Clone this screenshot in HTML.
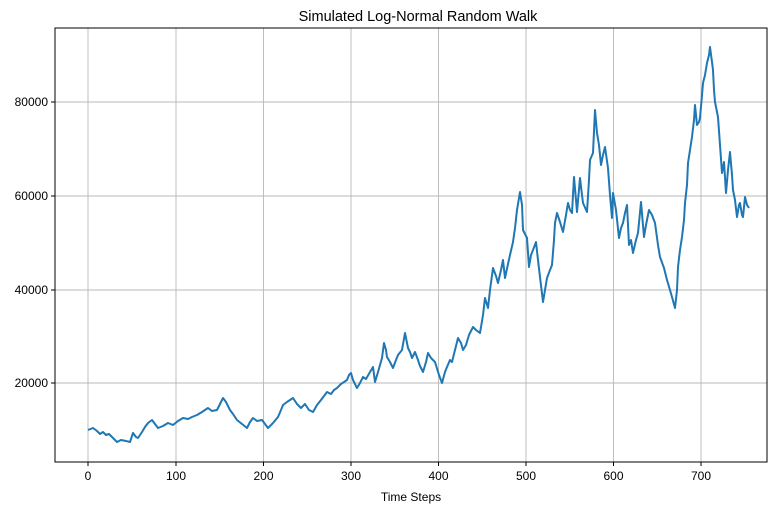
<!DOCTYPE html>
<html><head><style>body{margin:0;background:#fff}svg{display:block;font-family:"Liberation Sans",sans-serif}</style></head>
<body>
<svg width="768" height="512" viewBox="0 0 768 512">
<rect width="768" height="512" fill="#fff"/>
<g stroke="#b8b8b8" stroke-width="0.9">
<line x1="88" y1="28" x2="88" y2="462"/><line x1="176" y1="28" x2="176" y2="462"/><line x1="263.5" y1="28" x2="263.5" y2="462"/><line x1="351" y1="28" x2="351" y2="462"/><line x1="438.5" y1="28" x2="438.5" y2="462"/><line x1="526" y1="28" x2="526" y2="462"/><line x1="613.5" y1="28" x2="613.5" y2="462"/><line x1="701" y1="28" x2="701" y2="462"/>
<line x1="55" y1="383" x2="767" y2="383"/><line x1="55" y1="290" x2="767" y2="290"/><line x1="55" y1="196" x2="767" y2="196"/><line x1="55" y1="102" x2="767" y2="102"/>
</g>
<polyline fill="none" stroke="#1f77b4" stroke-width="2" stroke-linejoin="round" points="88,430 93,428 97,431 100,434 103,432 106,435 109,434 112,437 117,442 121,440 126,441 130,442 133,433 136,437 138,438 142,432 145,427 148,423 152,420 155,424 158,428 163,426 168,423 173,425 178,421 183,418 188,419 192,417 197,415 202,412 205,410 208,408 212,411 217,410 220,404 223,398 226,402 230,410 233,414 237,420 242,424 247,428 250,422 253,418 257,421 262,420 265,424 268,428 273,423 278,417 281,410 283,405 287,402 290,400 293,398 297,404 301,408 305,404 309,410 313,412 317,405 321,400 324,396 327,392 331,394 334,390 337,388 341,384 344,382 347,380 349,375 351,373 353,380 357,388 360,383 363,377 366,379 370,372 373,367 375,382 378,372 380,365 382,358 384,343 386,350 387,357 390,362 393,368 396,360 398,355 402,350 405,333 408,348 410,352 412,358 415,352 418,360 420,366 423,372 426,362 428,353 431,358 435,362 439,375 442,383 445,372 447,367 450,360 452,362 455,350 458,338 461,343 463,350 466,345 469,335 473,327 476,330 480,333 483,315 485,298 488,308 490,290 493,268 496,276 498,283 501,270 503,260 505,278 508,264 510,255 513,242 515,228 517,210 519,198 520,192 522,205 523,230 527,238 529,267 531,255 533,250 536,242 538,260 540,277 543,302 545,290 547,278 550,270 552,265 554,240 555,223 557,213 560,222 563,232 566,215 568,203 570,210 572,213 574,177 576,200 577,212 580,178 582,195 583,203 587,212 589,180 590,160 593,153 595,110 597,133 599,145 601,165 603,155 605,147 608,168 610,195 612,218 613,193 616,210 619,238 621,228 623,223 625,213 627,205 629,245 631,240 633,253 636,240 638,233 641,202 644,237 646,225 649,210 652,215 655,223 658,245 660,257 664,268 667,280 670,290 672,297 675,308 677,290 678,267 680,250 682,237 684,220 685,203 687,185 688,163 690,150 692,137 694,120 695,105 697,125 699,122 700,118 702,95 703,83 705,75 707,63 709,55 710,47 712,62 713,70 714,90 715,102 718,117 720,145 722,173 724,162 726,193 728,170 730,152 732,175 733,190 735,200 737,217 739,205 740,203 742,215 743,217 745,197 747,205 749,208"/>
<rect x="55" y="28" width="712" height="434" fill="none" stroke="#000" stroke-width="1"/>
<g stroke="#000" stroke-width="1">
<line x1="88" y1="462" x2="88" y2="466"/><line x1="176" y1="462" x2="176" y2="466"/><line x1="263.5" y1="462" x2="263.5" y2="466"/><line x1="351" y1="462" x2="351" y2="466"/><line x1="438.5" y1="462" x2="438.5" y2="466"/><line x1="526" y1="462" x2="526" y2="466"/><line x1="613.5" y1="462" x2="613.5" y2="466"/><line x1="701" y1="462" x2="701" y2="466"/>
<line x1="51" y1="383" x2="55" y2="383"/><line x1="51" y1="290" x2="55" y2="290"/><line x1="51" y1="196" x2="55" y2="196"/><line x1="51" y1="102" x2="55" y2="102"/>
</g>
<g font-size="12" fill="#000" text-anchor="middle">
<text x="88" y="480">0</text><text x="176" y="480">100</text><text x="263.5" y="480">200</text><text x="351" y="480">300</text><text x="438.5" y="480">400</text><text x="526" y="480">500</text><text x="613.5" y="480">600</text><text x="701" y="480">700</text>
</g>
<g font-size="12" fill="#000" text-anchor="end">
<text x="48" y="387">20000</text><text x="48" y="294">40000</text><text x="48" y="200">60000</text><text x="48" y="106">80000</text>
</g>
<text x="411" y="501" font-size="12" text-anchor="middle">Time Steps</text>
<text x="418" y="21" font-size="14.5" text-anchor="middle">Simulated Log-Normal Random Walk</text>
</svg>
</body></html>
